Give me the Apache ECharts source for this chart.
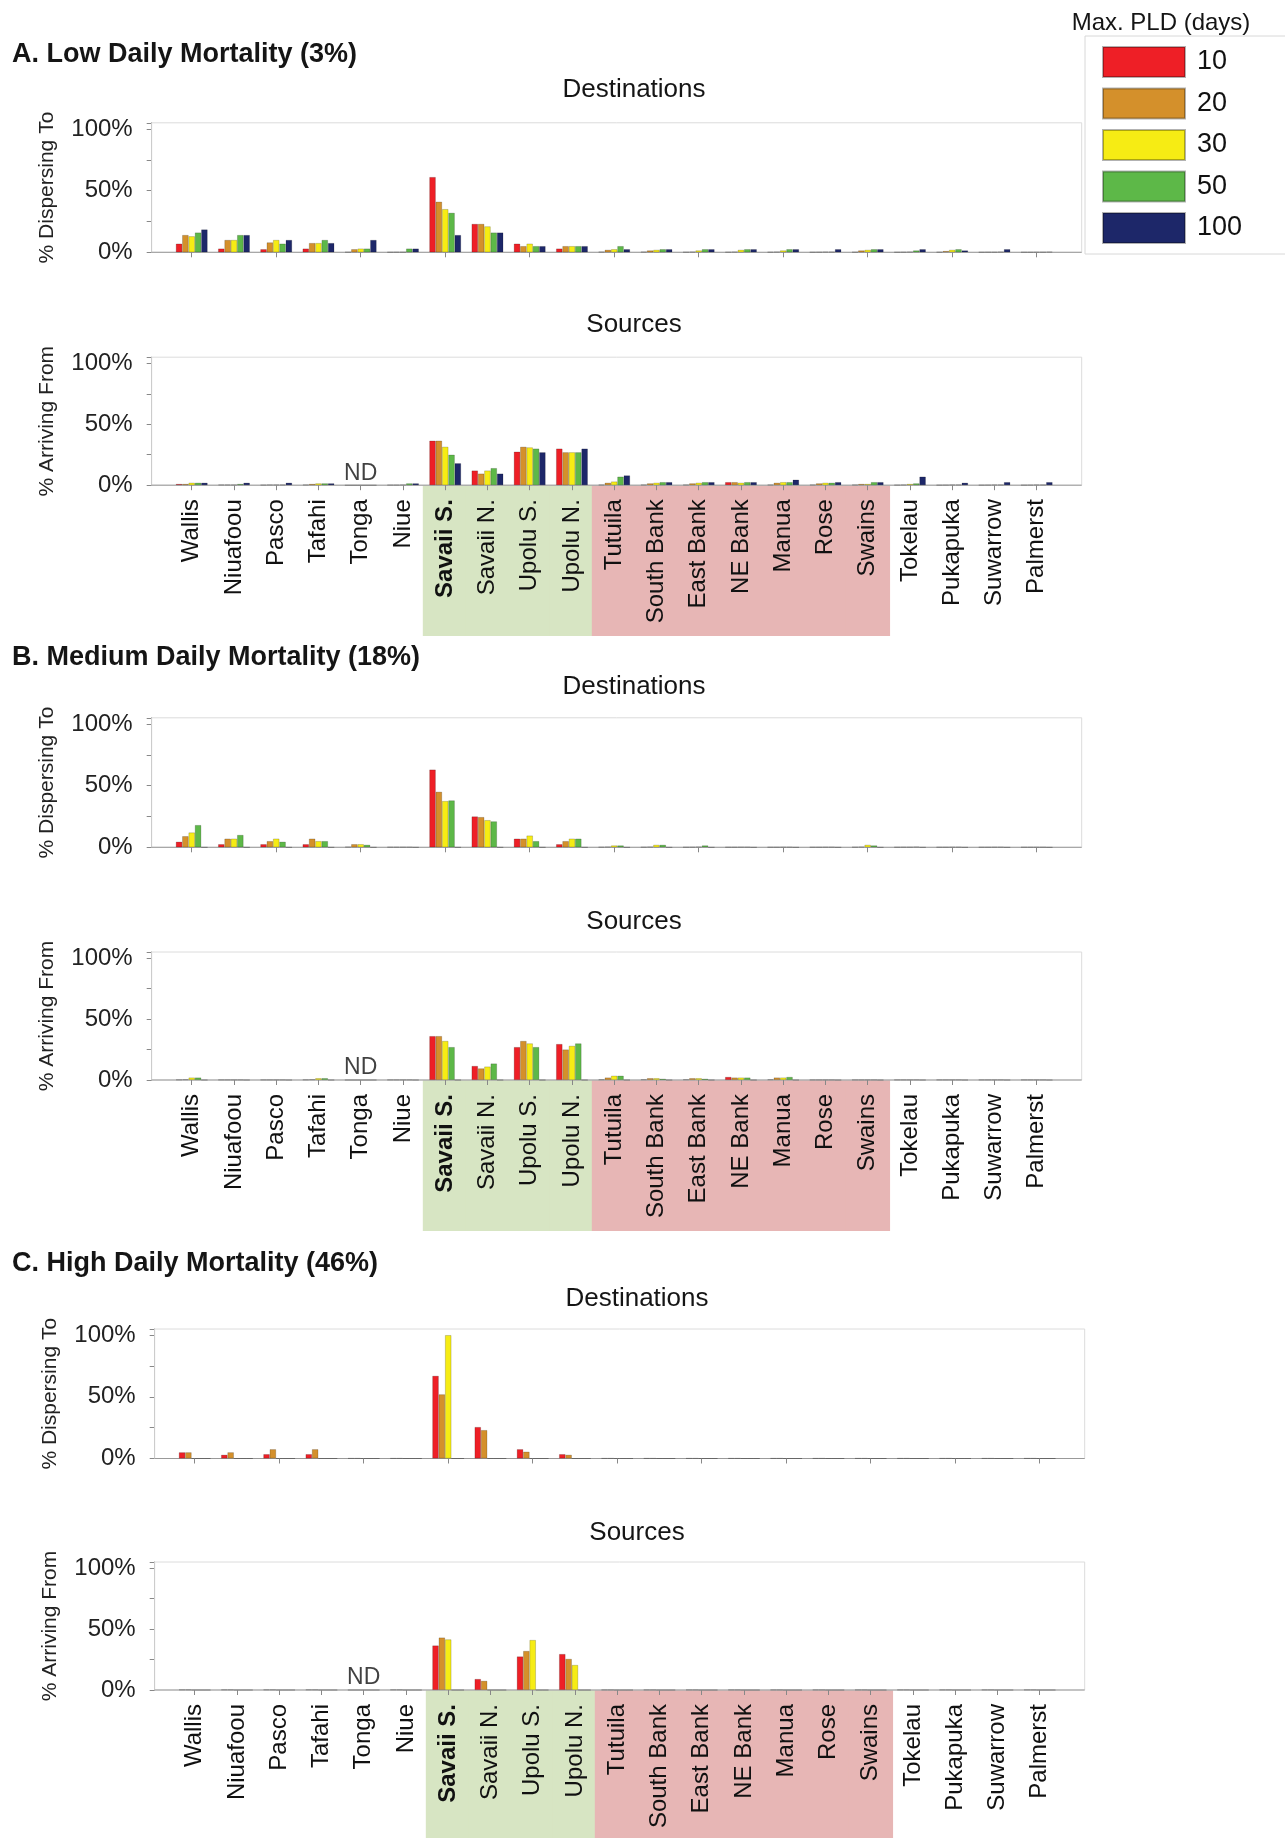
<!DOCTYPE html>
<html><head><meta charset="utf-8">
<script src="https://cdn.jsdelivr.net/npm/echarts@6/dist/echarts.min.js"></script>
<style>html,body{margin:0;padding:0;background:#fff}#c{width:1285px;height:1838px}</style>
</head><body><div id="c"></div><script>
// ---------------- DATA ----------------
const categories = ['Wallis','Niuafoou','Pasco','Tafahi','Tonga','Niue','Savaii S.','Savaii N.','Upolu S.','Upolu N.','Tutuila','South Bank','East Bank','NE Bank','Manua','Rose','Swains','Tokelau','Pukapuka','Suwarrow','Palmerst'];
const pldDays = ['10','20','30','50','100'];
const yTickLabels = [0, 50, 100];
const boldCategories = ['Savaii S.'];
const greenBandCategories = ['Savaii S.','Savaii N.','Upolu S.','Upolu N.'];
const redBandCategories = ['Tutuila','South Bank','East Bank','NE Bank','Manua','Rose','Swains'];
const noDataSources = ['Tonga'];
const panelTitles = ['A. Low Daily Mortality (3%)','B. Medium Daily Mortality (18%)','C. High Daily Mortality (46%)'];

// rows: PLD 10, 20, 30, 50, 100 (percent)
const lowDest = [
 [7,3,2.5,3,0.3,0.2,61,23,7,3,0.5,0.5,0.3,0.3,0.3,0.2,0.3,0.2,0.3,0.2,0.2],
 [14,10,8,7.5,2.5,0.3,41,23,5,5,2,1.5,0.5,0.5,0.5,0.3,1.5,0.3,1,0.3,0.2],
 [13,10,10,7.5,3,0.3,35,21,7,5,2.5,2,1.5,2,1.5,0.5,2,0.5,2,0.3,0.3],
 [16,14,7,10,3,3,32,16,5,5,5,2.5,2.5,2.5,2.5,0.5,2.5,1.5,2.5,0.5,0.3],
 [18.5,14,10,7.5,10,3,14,16,5,5,2.5,2.5,2.5,2.5,2.5,2.5,2.5,2.5,1.5,2.5,0.5]
];
const lowSrc = [
 [1,0.5,0.3,0.5,0,0.3,36.5,12,27.5,30,0.5,0.5,0.5,2.5,0.5,0.5,0.5,0.3,0.2,0.2,0.2],
 [1,0.5,0.5,1,0,0.3,36.5,9.5,31.5,27,2,1.5,1.5,2.5,2,1.5,1,0.5,0.3,0.3,0.3],
 [2,0.5,0.5,1.5,0,0.5,31.5,12,31,27,3,2,2,2,2.5,2,1,1,0.5,0.5,0.5],
 [2,1,0.5,1.5,0,1.5,25,14,30,27,7,2.5,2.5,2.5,2.5,2,2.5,1.5,0.5,0.5,0.5],
 [2,2,2,1.5,0,1.5,18,9.5,27,30,8,2.5,2.5,2.5,4.5,2.5,2.5,7,2,2.5,2.5]
];
const medDest = [
 [4.5,2.5,2.5,2.5,0.5,0.3,63,25,7,2.5,0.3,0.3,0.2,0.2,0.2,0.2,0.3,0.2,0.2,0.2,0.2],
 [9,7,5,7,2.5,0.3,45,24.5,7,5,0.5,0.5,0.3,0.2,0.2,0.2,0.5,0.3,0.2,0.2,0.2],
 [12,7,7,5,2.5,0.3,37.5,22,9.5,7,1.5,2,0.5,0.3,0.3,0.3,2,0.3,0.3,0.3,0.2],
 [18,10,4.5,5,2,0.3,38,21,5,7,1.5,2,1.5,0.3,0.3,0.3,1.5,0.5,0.3,0.3,0.2],
 [0,0,0,0,0,0,0,0,0,0,0,0,0,0,0,0,0,0,0,0,0]
];
const medSrc = [
 [0.3,0.2,0.2,0.3,0,0.2,36,11.5,27,29.5,0.5,0.5,0.5,2.5,0.5,0.2,0.2,0.2,0.2,0.2,0.2],
 [0.5,0.2,0.2,0.5,0,0.2,36,9.5,32,25,2,1.5,1.5,2,2,0.2,0.2,0.2,0.2,0.2,0.2],
 [2,0.2,0.2,1.5,0,0.2,32,11,30,28,3.5,1.5,1.5,2,2,0.2,0.2,0.2,0.2,0.2,0.2],
 [2,0.2,0.2,1.5,0,0.2,27,13.5,27,30,3.5,1,1,2,2.5,0.2,0.2,0.2,0.2,0.2,0.2],
 [0,0,0,0,0,0,0,0,0,0,0,0,0,0,0,0,0,0,0,0,0]
];
const highDest = [
 [5,3,3.5,3.5,0.2,0.2,67,25.5,7.5,3.5,0.2,0.2,0.2,0.2,0.2,0.2,0.2,0.2,0.2,0.2,0.2],
 [5,5,7.5,7.5,0.2,0.2,52,23,5.5,3,0.2,0.2,0.2,0.2,0.2,0.2,0.2,0.2,0.2,0.2,0.2],
 [0,0,0,0,0,0,100,0,0,0,0,0,0,0,0,0,0,0,0,0,0],
 [0,0,0,0,0,0,0,0,0,0,0,0,0,0,0,0,0,0,0,0,0],
 [0,0,0,0,0,0,0,0,0,0,0,0,0,0,0,0,0,0,0,0,0]
];
const highSrc = [
 [0.3,0.3,0.3,0.3,0,0.3,36.5,9,27.5,29.5,0.2,0.2,0.2,0.2,0.2,0.2,0.2,0.2,0.2,0.2,0.2],
 [0.3,0.3,0.3,0.3,0,0.3,43,7.5,32,25.5,0.2,0.2,0.2,0.2,0.2,0.2,0.2,0.2,0.2,0.2,0.2],
 [0,0,0,0,0,0,41.5,0,41,20.5,0,0,0,0,0,0,0,0,0,0,0],
 [0,0,0,0,0,0,0,0,0,0,0,0,0,0,0,0,0,0,0,0,0],
 [0,0,0,0,0,0,0,0,0,0,0,0,0,0,0,0,0,0,0,0,0]
];

// ---------------- STYLE / LAYOUT ----------------
const FONT = '"Liberation Sans", Arial, Helvetica, sans-serif';
const colors = ['#ee1f26','#d4902b','#f6ec14','#5db848','#1d2769'];
const bandGreen = '#d7e5c3', bandRed = '#e7b6b5';
const X0 = 170.6, XW = 887.2, FRAME_L = 151.7, FRAME_W = 930;
const DEST_H = 129.5, SRC_H = 128;

const panels = [
 {title: panelTitles[0], titleY: 55, destTitleY: 90, destTop: 122.8, srcTitleY: 325, srcTop: 357.2, bandBottom: 636, dx: 0, dest: lowDest, src: lowSrc},
 {title: panelTitles[1], titleY: 658, destTitleY: 687, destTop: 717.8, srcTitleY: 921.6, srcTop: 952, bandBottom: 1231, dx: 0, dest: medDest, src: medSrc},
 {title: panelTitles[2], titleY: 1264, destTitleY: 1299, destTop: 1329, srcTitleY: 1532.5, srcTop: 1562, bandBottom: 1838, dx: 3, dest: highDest, src: highSrc}
];

const grids = [], xAxes = [], yAxes = [], series = [], graphics = [];

function txt(text, x, y, size, weight, align) {
  graphics.push({type: 'text', x: x, y: y, z: 10, silent: true,
    style: {text: text, fontSize: size, fontWeight: weight || 'normal', fontFamily: FONT, fill: '#151515',
      align: align || 'left', verticalAlign: 'middle', textAlign: align || 'left', textVerticalAlign: 'middle'}});
}

function addChart(rows, top, h, dx, yName, isSrc, bandBottom) {
  grids.push({left: X0 + dx, top: top, width: XW, height: h});
  const gi = grids.length - 1;
  xAxes.push({
    type: 'category', gridIndex: gi, data: categories, z: 10,
    axisLine: {show: false},
    axisTick: {show: true, alignWithLabel: true, length: 5, lineStyle: {color: '#888'}},
    axisLabel: isSrc ? {
      show: true, rotate: 90, interval: 0, margin: 14, fontSize: 24, color: '#111', fontFamily: FONT,
      formatter: v => boldCategories.includes(v) ? '{b|' + v + '}' : v,
      rich: {b: {fontWeight: 'bold', fontSize: 24, fontFamily: FONT, color: '#111'}}
    } : {show: false}
  });
  yAxes.push({
    type: 'value', gridIndex: gi, min: 0, max: 105, interval: 25, offset: X0 - FRAME_L,
    name: yName, nameLocation: 'middle', nameGap: 94,
    nameTextStyle: {fontSize: 21, color: '#222', fontFamily: FONT},
    axisLine: {show: true, lineStyle: {color: '#888'}},
    axisTick: {show: true, length: 5, lineStyle: {color: '#888'}},
    axisLabel: {margin: 19, fontSize: 24, color: '#222', fontFamily: FONT,
      formatter: v => yTickLabels.includes(v) ? v + '%' : ''},
    splitLine: {show: false}
  });
  rows.forEach((r, i) => series.push({
    type: 'bar', name: pldDays[i], xAxisIndex: gi, yAxisIndex: gi, data: r,
    barGap: '0%', barCategoryGap: '25%', silent: true,
    itemStyle: {color: colors[i], borderColor: 'rgba(0,0,0,0.3)', borderWidth: 0.6}
  }));
  graphics.push({type: 'rect', silent: true, z: 1,
    shape: {x: FRAME_L + dx, y: top, width: FRAME_W, height: h},
    style: {fill: 'none', stroke: '#dcdcdc', lineWidth: 1}});
  graphics.push({type: 'line', silent: true, z: 1,
    shape: {x1: FRAME_L + dx, y1: top + h, x2: FRAME_L + dx + FRAME_W, y2: top + h},
    style: {stroke: '#999', lineWidth: 1}});
  if (isSrc) {
    series.push({
      type: 'scatter', xAxisIndex: gi, yAxisIndex: gi, silent: true, z: 5,
      data: noDataSources.map(c => [c, 0]), symbolSize: 1, itemStyle: {color: 'rgba(0,0,0,0)'},
      label: {show: true, formatter: 'ND', position: 'top', distance: 0, fontSize: 23, color: '#111', fontFamily: FONT}
    });
    grids.push({left: X0 + dx, top: top + h, width: XW, height: bandBottom - (top + h)});
    const bi = grids.length - 1;
    xAxes.push({type: 'category', gridIndex: bi, data: categories, show: false});
    yAxes.push({type: 'value', gridIndex: bi, min: 0, max: 1, show: false});
    series.push({
      type: 'bar', xAxisIndex: bi, yAxisIndex: bi, barWidth: '106%', silent: true, z: 0,
      data: categories.map(c => greenBandCategories.includes(c) ? {value: 1, itemStyle: {color: bandGreen}}
        : redBandCategories.includes(c) ? {value: 1, itemStyle: {color: bandRed}} : 0)
    });
  }
}

panels.forEach(p => {
  txt(p.title, 12, p.titleY, 27, 'bold', 'left');
  txt('Destinations', 634 + p.dx, p.destTitleY, 26, 'normal', 'center');
  txt('Sources', 634 + p.dx, p.srcTitleY, 26, 'normal', 'center');
  addChart(p.dest, p.destTop, DEST_H, p.dx, '% Dispersing To', false);
  addChart(p.src, p.srcTop, SRC_H, p.dx, '% Arriving From', true, p.bandBottom);
});
txt('Max. PLD (days)', 1161, 23, 24, 'normal', 'center');

const chart = echarts.init(document.getElementById('c'), null, {renderer: 'canvas', width: 1285, height: 1838});
chart.setOption({
  animation: false,
  backgroundColor: '#ffffff',
  textStyle: {fontFamily: FONT},
  legend: {
    data: pldDays, orient: 'vertical', left: 1085, top: 36,
    itemWidth: 82, itemHeight: 30, itemGap: 9.5, icon: 'rect',
    padding: [10, 50, 10, 17], borderColor: '#d8d8d8', borderWidth: 1,
    selectedMode: false,
    textStyle: {fontSize: 27, color: '#111', fontFamily: FONT, padding: [0, 0, 0, 7]}
  },
  grid: grids, xAxis: xAxes, yAxis: yAxes, series: series, graphic: graphics
});
</script></body></html>
